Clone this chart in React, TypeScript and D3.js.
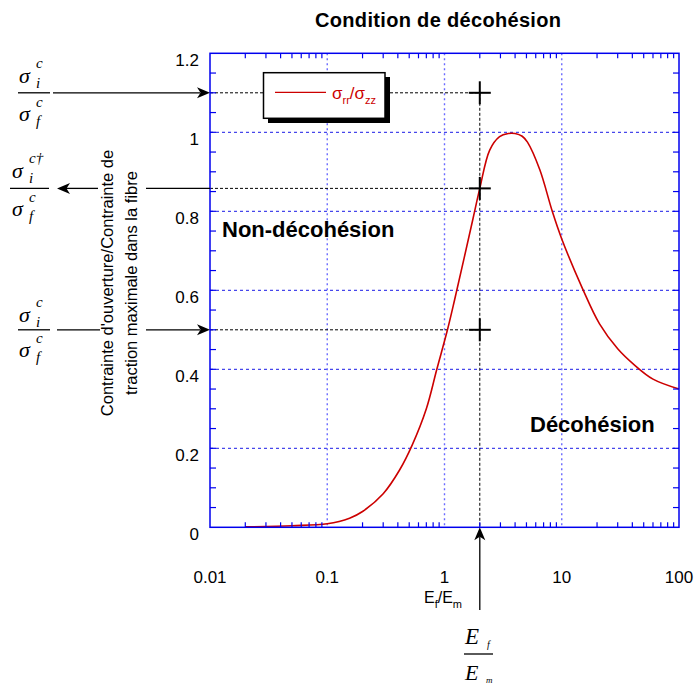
import React from "react";
import * as d3 from "d3";

const ratioX = [0.02, 0.05, 0.1, 0.155, 0.2, 0.3, 0.414, 0.53, 0.7, 0.86, 1.06, 1.22, 1.74, 2.0, 2.43, 2.95, 3.5, 4.0, 4.6, 5.1, 6.5, 8.3, 10, 15, 21, 30, 42, 60, 100];
const ratioY = [0.001, 0.004, 0.009, 0.023, 0.04, 0.085, 0.145, 0.208, 0.3, 0.4, 0.5, 0.576, 0.778, 0.858, 0.955, 0.989, 0.997, 0.997, 0.99, 0.975, 0.905, 0.8, 0.73, 0.605, 0.515, 0.452, 0.41, 0.375, 0.35];
const xTicks = [0.01, 0.1, 1, 10, 100];
const xTickLabels = ["0.01", "0.1", "1", "10", "100"];
const yTicks = [0, 0.2, 0.4, 0.6, 0.8, 1, 1.2];
const yTickLabels = ["0", "0.2", "0.4", "0.6", "0.8", "1", "1.2"];
const levels = [1.1, 0.858, 0.5];
const markX = 2;

const W = 694, H = 687;
const L = 210, R = 679, T = 53.3, B = 527.3;
const SANS = "'Liberation Sans', Arial, sans-serif";
const SERIF = "'Liberation Serif', 'Times New Roman', serif";
const BLUE = "#0000ee";

function Head({ x, y, dir }: { x: number; y: number; dir: "left" | "right" | "up" }) {
  const len = 13, hw = 5.5, notch = 3.5;
  let pts: [number, number][];
  if (dir === "right") pts = [[x, y], [x - len, y - hw], [x - len + notch, y], [x - len, y + hw]];
  else if (dir === "left") pts = [[x, y], [x + len, y - hw], [x + len - notch, y], [x + len, y + hw]];
  else pts = [[x, y], [x - hw, y + len], [x, y + len - notch], [x + hw, y + len]];
  return <polygon points={pts.map((p) => p.join(",")).join(" ")} fill="#000" />;
}

function Sigma({ x, yNum, yDen, sup, lineX1, lineX2, lineY }: { x: number; yNum: number; yDen: number; sup: string; lineX1: number; lineX2: number; lineY: number }) {
  const fs = 22, ss = 15;
  return (
    <g fontFamily={SERIF} fontStyle="italic" fill="#000">
      <text x={x} y={yNum} fontSize={fs}>σ</text>
      <text x={x + 17} y={yNum - 15} fontSize={ss}>{sup}</text>
      <text x={x + 17} y={yNum + 5} fontSize={ss}>i</text>
      <line x1={lineX1} x2={lineX2} y1={lineY} y2={lineY} stroke="#000" strokeWidth={1.3} />
      <text x={x} y={yDen} fontSize={fs}>σ</text>
      <text x={x + 17} y={yDen - 14} fontSize={ss}>c</text>
      <text x={x + 17} y={yDen + 5} fontSize={ss}>f</text>
    </g>
  );
}

export default function App() {
  const xs = d3.scaleLog().domain([0.01, 100]).range([L, R]);
  const ys = d3.scaleLinear().domain([0, 1.2]).range([B, T]);
  const pts = ratioX.map((x, i) => [x, ratioY[i]] as [number, number]);
  const path = d3.line<[number, number]>().x((d) => xs(d[0])).y((d) => ys(d[1])).curve(d3.curveCatmullRom.alpha(0.5))(pts) || "";

  const minorX: number[] = [];
  for (let e = -2; e < 2; e++) for (let k = 2; k <= 9; k++) minorX.push(k * Math.pow(10, e));
  const minorY: number[] = d3.range(0.05, 1.2, 0.05).map((v) => +v.toFixed(2));
  const mx = xs(markX);

  return (
    <svg width={W} height={H} style={{ position: "absolute", left: 0, top: 0, background: "#fff" }}>
      <rect x={0} y={0} width={W} height={H} fill="#fff" />
      {yTicks.filter((v) => v > 0 && v < 1.2).map((v) => (
        <line key={"gy" + v} x1={L} x2={R} y1={ys(v)} y2={ys(v)} stroke="#1a1ae6" strokeWidth={1} strokeDasharray="3,3" />
      ))}
      {xTicks.filter((v) => v > 0.01 && v < 100).map((v) => (
        <line key={"gx" + v} x1={xs(v)} x2={xs(v)} y1={T} y2={B} stroke="#6a6aff" strokeWidth={1.4} strokeDasharray="2,3" />
      ))}
      {levels.map((v) => (
        <line key={"lv" + v} x1={L} x2={mx} y1={ys(v)} y2={ys(v)} stroke="#000" strokeWidth={1} strokeDasharray="3,2" />
      ))}
      <line x1={mx} x2={mx} y1={ys(levels[0])} y2={B} stroke="#000" strokeWidth={1} strokeDasharray="3,2" />
      <path d={path} fill="none" stroke="#cc0000" strokeWidth={1.6} />
      {levels.map((v) => (
        <g key={"cr" + v} stroke="#000" strokeWidth={2}>
          <line x1={mx - 11} x2={mx + 11} y1={ys(v)} y2={ys(v)} />
          <line x1={mx} x2={mx} y1={ys(v) - 11.5} y2={ys(v) + 11.5} />
        </g>
      ))}
      <rect x={L} y={T} width={R - L} height={B - T} fill="none" stroke={BLUE} strokeWidth={1.5} />
      {minorX.map((v) => (
        <g key={"tx" + v} stroke={BLUE} strokeWidth={1.2}>
          <line x1={xs(v)} x2={xs(v)} y1={B} y2={B - 5} />
          <line x1={xs(v)} x2={xs(v)} y1={T} y2={T + 5} />
        </g>
      ))}
      {minorY.map((v) => (
        <g key={"ty" + v} stroke={BLUE} strokeWidth={1.2}>
          <line x1={L} x2={L + 6} y1={ys(v)} y2={ys(v)} />
          <line x1={R} x2={R - 6} y1={ys(v)} y2={ys(v)} />
        </g>
      ))}
      {yTicks.map((v, i) => (
        <text key={"yl" + v} x={199} y={ys(v) + 13} textAnchor="end" fontFamily={SANS} fontSize={17} fill="#000">{yTickLabels[i]}</text>
      ))}
      {xTicks.map((v, i) => (
        <text key={"xl" + v} x={xs(v)} y={583} textAnchor="middle" fontFamily={SANS} fontSize={17} fill="#000">{xTickLabels[i]}</text>
      ))}
      <text x={438} y={27} textAnchor="middle" fontFamily={SANS} fontWeight="bold" fontSize={20} textLength={246} lengthAdjust="spacing" fill="#000">Condition de décohésion</text>
      <text x={222} y={237} fontFamily={SANS} fontWeight="bold" fontSize={22} fill="#000">Non-décohésion</text>
      <text x={530} y={432} fontFamily={SANS} fontWeight="bold" fontSize={22} fill="#000">Décohésion</text>
      <rect x={268} y={77} width={122} height={46} fill="#000" />
      <rect x={263.5} y={72.7} width={121.5} height={45.6} fill="#fff" stroke="#000" strokeWidth={1.5} />
      <line x1={275} x2={326} y1={92.3} y2={92.3} stroke="#cc0000" strokeWidth={1.2} />
      <text x={332} y={99} fontFamily={SANS} fontSize={17} fill="#cc0000">
        σ<tspan fontSize={11} dy={5}>rr</tspan><tspan dy={-5} fontSize={17}>/σ</tspan><tspan fontSize={11} dy={5}>zz</tspan>
      </text>
      <text transform="translate(113,283) rotate(-90)" textAnchor="middle" fontFamily={SANS} fontSize={16.5} fill="#000">Contrainte d'ouverture/Contrainte de</text>
      <text transform="translate(137,283) rotate(-90)" textAnchor="middle" fontFamily={SANS} fontSize={16.5} fill="#000">traction maximale dans la fibre</text>
      <text x={424} y={603} fontFamily={SANS} fontSize={16} fill="#000">
        E<tspan fontSize={11} dy={5}>f</tspan><tspan dy={-5} fontSize={16}>/E</tspan><tspan fontSize={11} dy={5}>m</tspan>
      </text>
      <line x1={53} x2={200} y1={ys(levels[0])} y2={ys(levels[0])} stroke="#000" strokeWidth={1.3} />
      <Head x={L} y={ys(levels[0])} dir="right" />
      <line x1={146} x2={L} y1={ys(levels[1])} y2={ys(levels[1])} stroke="#000" strokeWidth={1.3} />
      <line x1={66} x2={98} y1={ys(levels[1])} y2={ys(levels[1])} stroke="#000" strokeWidth={1.3} />
      <Head x={57} y={ys(levels[1])} dir="left" />
      <line x1={57} x2={100} y1={ys(levels[2])} y2={ys(levels[2])} stroke="#000" strokeWidth={1.3} />
      <line x1={146} x2={200} y1={ys(levels[2])} y2={ys(levels[2])} stroke="#000" strokeWidth={1.3} />
      <Head x={L} y={ys(levels[2])} dir="right" />
      <line x1={mx} x2={mx} y1={610} y2={537} stroke="#000" strokeWidth={1.3} />
      <Head x={mx} y={B} dir="up" />
      <Sigma x={19} yNum={83} yDen={121} sup="c" lineX1={18} lineX2={50} lineY={ys(levels[0])} />
      <Sigma x={12} yNum={178} yDen={216} sup="c†" lineX1={10} lineX2={49} lineY={ys(levels[1])} />
      <Sigma x={19} yNum={322} yDen={357} sup="c" lineX1={18} lineX2={50} lineY={ys(levels[2])} />
      <g fontFamily={SERIF} fontStyle="italic" fill="#000">
        <text x={465} y={644} fontSize={23}>E</text>
        <text x={487} y={648} fontSize={10}>f</text>
        <line x1={464} x2={493} y1={654} y2={654} stroke="#000" strokeWidth={1.3} />
        <text x={465} y={680} fontSize={22}>E</text>
        <text x={486} y={683} fontSize={9}>m</text>
      </g>
    </svg>
  );
}
